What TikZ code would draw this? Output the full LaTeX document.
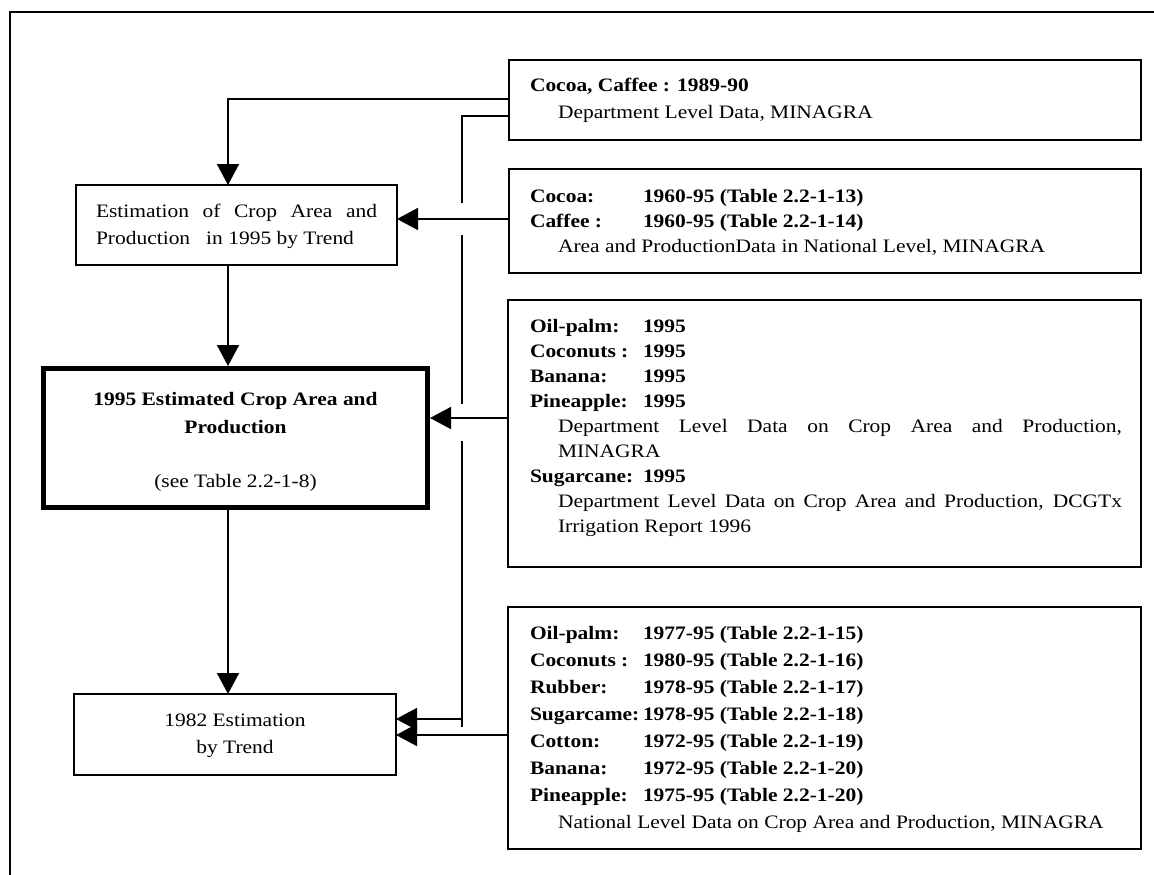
\documentclass[tikz,border=0pt]{standalone}
\usepackage{fontspec}
\setmainfont[FakeStretch=1.13]{Liberation Serif}
\usetikzlibrary{arrows.meta}
\begin{document}
\begin{tikzpicture}[x=1pt,y=-1pt,
  every node/.style={inner sep=0pt,outer sep=0pt,font=\fontsize{19}{25}\selectfont},
  bx/.style={draw,line width=1.6pt,rectangle},
  lab/.style={anchor=base west,font=\fontsize{19}{25}\selectfont\bfseries},
  txt/.style={anchor=base west},
  ctr/.style={anchor=base},
  conn/.style={line width=1.6pt},
  arr/.style={line width=1.6pt,-{Triangle[length=21pt,width=22pt]}}]
\useasboundingbox (0,0) rectangle (1154,875);
% frame
\coordinate (f1) at (10,875);
\coordinate (f2) at (10,12);
\coordinate (f3) at (1154,12);
\draw[line width=2pt] (f1) -- (f2) -- (f3);

% right boxes
\node[bx,minimum width=632pt,minimum height=80pt] (a) at (825,100) {};
\node[bx,minimum width=632pt,minimum height=104pt] (b) at (825,221) {};
\node[bx,minimum width=633pt,minimum height=267pt] (c) at (824.5,433.5) {};
\node[bx,minimum width=633pt,minimum height=242pt] (d) at (824.5,728) {};

% box A text
\node[lab] (a1) at (530,92) {Cocoa, Caffee : 1989-90};
\node[txt] (a2) at (558,118) {Department Level Data, MINAGRA};

% box B text
\node[lab] (b1) at (530,202) {Cocoa:};
\node[lab] (b1v) at (643,202) {1960-95 (Table 2.2-1-13)};
\node[lab] (b2) at (530,227) {Caffee :};
\node[lab] (b2v) at (643,227) {1960-95 (Table 2.2-1-14)};
\node[txt] (b3) at (558,252) {Area and ProductionData in National Level, MINAGRA};

% box C text
\node[lab] (c1) at (530,332) {Oil-palm:};
\node[lab] (c1v) at (643,332) {1995};
\node[lab] (c2) at (530,357) {Coconuts :};
\node[lab] (c2v) at (643,357) {1995};
\node[lab] (c3) at (530,382) {Banana:};
\node[lab] (c3v) at (643,382) {1995};
\node[lab] (c4) at (530,407) {Pineapple:};
\node[lab] (c4v) at (643,407) {1995};
\node[txt] (c5) at (558,432) {\makebox[564pt][s]{Department Level Data on Crop Area and Production,}};
\node[txt] (c6) at (558,457) {MINAGRA};
\node[lab] (c7) at (530,482) {Sugarcane:};
\node[lab] (c7v) at (643,482) {1995};
\node[txt] (c8) at (558,507) {\makebox[564pt][s]{Department Level Data on Crop Area and Production, DCGTx}};
\node[txt] (c9) at (558,532) {Irrigation Report 1996};

% box D text
\node[lab] (d1) at (530,639) {Oil-palm:};
\node[lab] (d1v) at (643,639) {1977-95 (Table 2.2-1-15)};
\node[lab] (d2) at (530,666) {Coconuts :};
\node[lab] (d2v) at (643,666) {1980-95 (Table 2.2-1-16)};
\node[lab] (d3) at (530,693) {Rubber:};
\node[lab] (d3v) at (643,693) {1978-95 (Table 2.2-1-17)};
\node[lab] (d4) at (530,720) {Sugarcame:};
\node[lab] (d4v) at (643,720) {1978-95 (Table 2.2-1-18)};
\node[lab] (d5) at (530,747) {Cotton:};
\node[lab] (d5v) at (643,747) {1972-95 (Table 2.2-1-19)};
\node[lab] (d6) at (530,774) {Banana:};
\node[lab] (d6v) at (643,774) {1972-95 (Table 2.2-1-20)};
\node[lab] (d7) at (530,801) {Pineapple:};
\node[lab] (d7v) at (643,801) {1975-95 (Table 2.2-1-20)};
\node[txt] (d8) at (558,828) {National Level Data on Crop Area and Production, MINAGRA};

% left boxes
\node[bx,minimum width=321pt,minimum height=80pt] (e1) at (236.5,225) {};
\node[txt] (e1a) at (96,217) {\makebox[281pt][s]{Estimation of Crop Area and}};
\node[txt] (e1b) at (96,244) {Production\hspace{16pt}in 1995 by Trend};

\node[bx,line width=5pt,minimum width=384pt,minimum height=139pt,outer sep=2.5pt] (e2) at (235.5,438) {};
\node[ctr,font=\fontsize{19}{25}\selectfont\bfseries] (e2a) at (235.5,405) {1995 Estimated Crop Area and};
\node[ctr,font=\fontsize{19}{25}\selectfont\bfseries] (e2b) at (235.5,433) {Production};
\node[ctr] (e2c) at (235.5,487) {(see Table 2.2-1-8)};

\node[bx,minimum width=322pt,minimum height=81pt] (e3) at (235,734.5) {};
\node[ctr] (e3a) at (235,726) {1982 Estimation};
\node[ctr] (e3b) at (235,753) {by Trend};

% connectors
\coordinate (p1) at (228,99);
\draw[arr] (a.west |- p1) -- (p1) -- (e1.north -| p1);

\coordinate (p2) at (462,116);
\coordinate (g1) at (462,203);
\coordinate (g2) at (462,235);
\coordinate (g3) at (462,404);
\coordinate (g4) at (462,441);
\coordinate (p3) at (462,727);
\coordinate (p4) at (462,719);
\draw[conn] (a.west |- p2) -- (p2) -- (g1);
\draw[conn] (g2) -- (g3);
\draw[conn] (g4) -- (p3);
\draw[arr] (p4) -- (e3.east |- p4);

\coordinate (yb) at (0,219);
\draw[arr] (b.west |- yb) -- (e1.east |- yb);
\coordinate (yc) at (0,418);
\draw[arr] (c.west |- yc) -- (e2.east |- yc);
\coordinate (yd) at (0,735);
\draw[arr] (d.west |- yd) -- (e3.east |- yd);

\coordinate (cx) at (228,0);
\draw[arr] (e1.south -| cx) -- (e2.north -| cx);
\draw[arr] (e2.south -| cx) -- (e3.north -| cx);
\end{tikzpicture}
\end{document}
